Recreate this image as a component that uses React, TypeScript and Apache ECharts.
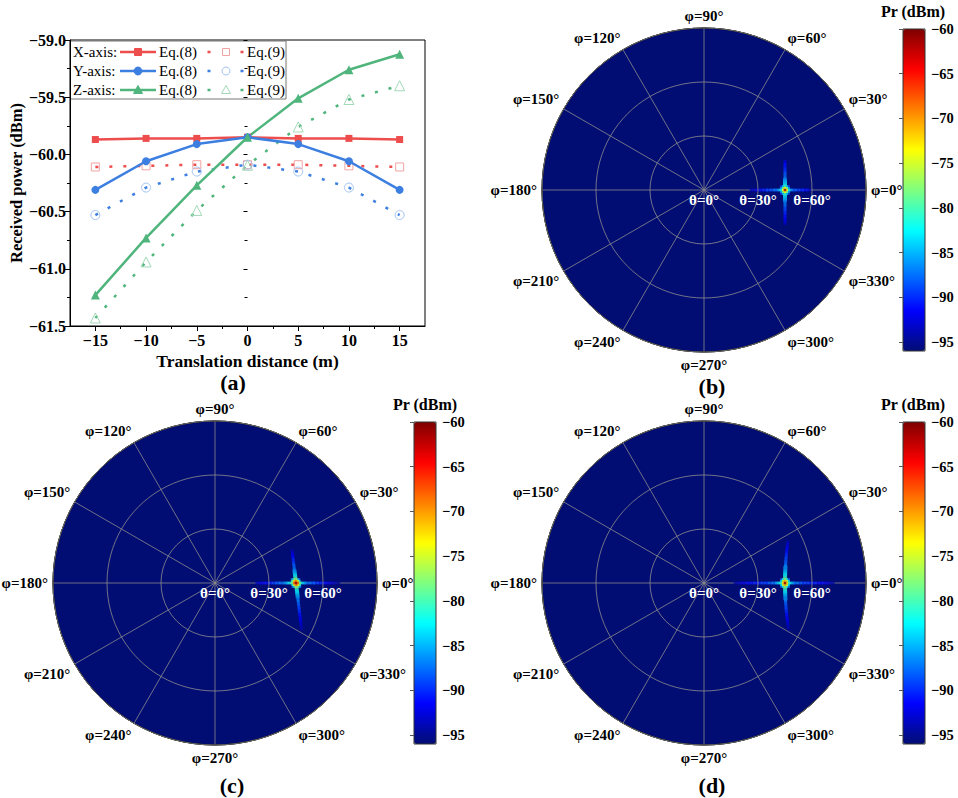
import React, { useEffect, useRef } from 'react';
import * as echarts from 'echarts';

// ---------- Panel (a) data ----------
const xDist = [-15, -10, -5, 0, 5, 10, 15];
const xEq8 = [-59.87, -59.86, -59.86, -59.85, -59.86, -59.86, -59.87];
const xEq9 = [-60.11, -60.10, -60.09, -60.09, -60.09, -60.10, -60.11];
const yEq8 = [-60.31, -60.06, -59.91, -59.85, -59.91, -60.06, -60.31];
const yEq9 = [-60.53, -60.29, -60.15, -60.09, -60.15, -60.29, -60.53];
const zEq8 = [-61.23, -60.73, -60.27, -59.85, -59.51, -59.26, -59.125];
const zEq9 = [-61.43, -60.94, -60.49, -60.095, -59.76, -59.52, -59.40];
const xMajor = [-15, -10, -5, 0, 5, 10, 15];
const xMinor = [-12.5, -7.5, -2.5, 2.5, 7.5, 12.5];
const cbTicks = [-95, -90, -85, -80, -75, -70, -65, -60];
const prMin = -96;
const prMax = -60;

// ---------- Panels (b),(c),(d): hot spot at theta=45°, phi=0° ----------
const spotTheta = 45;
const coreB = [
  [-89, -84, -80, -84, -89],
  [-85, -78, -74, -78, -85],
  [-82, -74, -62, -74, -82],
  [-85, -78, -74, -78, -85],
  [-89, -84, -80, -84, -89],
];
const upB = [-82, -84, -85, -86, -87, -88, -88, -89, -90, -90, -91, -91, -92, -93];
const downB = [-82, -84, -85, -86, -87, -87, -88, -89, -89, -90, -90, -91, -91, -92, -92, -93, -94];
const leftB = [-84, -86, -88, -87, -89, -88, -90, -89, -91, -90, -92, -91, -93, -92, -94, -93, -94];
const rightB = [-85, -87, -89, -88, -90, -89, -91, -90, -92, -91, -93, -94];

const coreC = [
  [-86, -80, -76, -80, -87],
  [-80, -73, -69, -73, -81],
  [-78, -68, -61, -68, -78],
  [-81, -73, -69, -73, -80],
  [-87, -80, -76, -80, -86],
];
const upC = [-80, -82, -84, -85, -86, -87, -88, -88, -89, -90, -90, -91, -92, -92, -93, -94];
const downC = [-80, -82, -83, -84, -85, -86, -87, -87, -88, -88, -89, -89, -90, -90, -91, -91, -92, -92, -92, -93, -93, -94, -94, -95];
const leftC = [-81, -83, -85, -86, -87, -88, -87, -89, -88, -90, -89, -91, -90, -92, -91, -92, -92, -93, -93, -94];
const rightC = [-82, -84, -86, -87, -88, -87, -89, -88, -90, -89, -91, -90, -92, -91, -92, -92, -93, -93, -94, -94, -95, -95];

const coreD = [
  [-87, -81, -77, -81, -87],
  [-83, -75, -71, -75, -83],
  [-80, -72, -61, -72, -80],
  [-83, -75, -71, -75, -83],
  [-87, -81, -77, -81, -87],
];
const upD = [-80, -82, -83, -84, -85, -86, -86, -87, -88, -88, -89, -89, -90, -90, -91, -91, -92, -92, -93, -93, -94];
const downD = [-80, -82, -83, -84, -85, -86, -86, -87, -88, -88, -89, -89, -90, -90, -91, -91, -92, -92, -92, -93, -93, -94, -94, -95];
const leftD = [-82, -84, -86, -88, -87, -89, -88, -90, -89, -90, -89, -91, -90, -91, -90, -92, -91, -92, -91, -93, -92, -93, -93, -94, -94, -95];
const rightD = [-83, -85, -87, -88, -87, -89, -88, -90, -89, -90, -89, -91, -90, -91, -90, -92, -91, -92, -91, -93, -92, -93, -94, -94, -95];

// ---------- styling ----------
const FONT = "'Liberation Serif', 'Times New Roman', serif";
const RED = '#ee4d4d';
const BLUE = '#3c7fe0';
const GREEN = '#4fb57c';
const RED_L = '#f2a3a3';
const BLUE_L = '#a3c3f2';
const GREEN_L = '#a3d9b8';
const NAVY = '#020d74';
const JET = [NAVY, '#0000FF', '#007FFF', '#00FFFF', '#7FFF7F', '#FFFF00', '#FF7F00', '#FF0000', '#7F0000'];

const minus = (v: number, d: number) => (v < 0 ? '\u2212' : '') + Math.abs(v).toFixed(d);

type Spot = { core: number[][]; up: number[]; down: number[]; left: number[]; right: number[]; tilt: number; bow: number };

function spotData(s: Spot) {
  const out: any[] = [];
  const vx = (dy: number) => spotTheta - s.tilt * dy + s.bow * dy * dy;
  s.left.forEach((v, i) => out.push({ value: [spotTheta - (i + 3), 0, v], symbolSize: [2, 2.8] }));
  s.right.forEach((v, i) => out.push({ value: [spotTheta + (i + 3), 0, v], symbolSize: [2, 2.8] }));
  s.up.forEach((v, i) => { const dy = i + 3; out.push({ value: [vx(dy), dy, v], symbolSize: [v > -87 ? 4 : 3, 2.1] }); });
  s.down.forEach((v, i) => { const dy = -(i + 3); out.push({ value: [vx(dy), dy, v], symbolSize: [v > -87 ? 4 : 3, 2.1] }); });
  s.core.forEach((row, r) => row.forEach((v, c) => {
    const dy = 2 - r;
    out.push({ value: [vx(dy) + (c - 2), dy, v], symbolSize: 2.4 });
  }));
  out.sort((a, b) => a.value[2] - b.value[2]);
  return out;
}

const spots: Spot[] = [
  { core: coreB, up: upB, down: downB, left: leftB, right: rightB, tilt: 0, bow: 0 },
  { core: coreC, up: upC, down: downC, left: leftC, right: rightC, tilt: 0.12, bow: 0 },
  { core: coreD, up: upD, down: downD, left: leftD, right: rightD, tilt: 0, bow: 0.003 },
];

// layout of the three polar panels
const R = 162;
const polarCenters = [[704, 190], [215, 583], [704, 583]];
const cbBoxes = [[903, 29], [414, 422], [903, 422]];
const CB_W = 22;
const CB_H = 322;

function buildOption() {
  const labelStyle = { fontFamily: FONT, fontWeight: 'bold' as const, color: '#000' };

  const grid: any[] = [{ left: 70, top: 40, width: 355, height: 286, show: true, borderColor: '#000', borderWidth: 1, backgroundColor: 'transparent' }];
  const xAxis: any[] = [
    {
      gridIndex: 0, type: 'value', min: -17.5, max: 17.5, position: 'bottom',
      axisLine: { show: true, onZero: false, lineStyle: { color: '#000', width: 1 } },
      axisTick: { show: true, customValues: xMajor, length: 5, lineStyle: { color: '#000' } },
      axisLabel: { customValues: xMajor, formatter: (v: number) => minus(v, 0), fontSize: 16, margin: 6, ...labelStyle },
      splitLine: { show: false },
      name: 'Translation distance (m)', nameLocation: 'middle', nameGap: 26,
      nameTextStyle: { fontSize: 17.5, ...labelStyle },
    },
    {
      gridIndex: 0, type: 'value', min: -17.5, max: 17.5, position: 'bottom',
      axisLine: { show: false },
      axisTick: { show: true, customValues: xMinor, length: 3, lineStyle: { color: '#000' } },
      axisLabel: { show: false },
      splitLine: { show: false },
    },
  ];
  const yAxis: any[] = [
    {
      gridIndex: 0, type: 'value', min: -61.5, max: -59.0, interval: 0.5, position: 'left',
      axisLine: { show: true, onZero: false, lineStyle: { color: '#000', width: 1 } },
      axisTick: { show: true, length: 5, lineStyle: { color: '#000' } },
      minorTick: { show: true, splitNumber: 2, length: 3, lineStyle: { color: '#000' } },
      axisLabel: { formatter: (v: number) => minus(v, 1), fontSize: 16, margin: 4, ...labelStyle },
      splitLine: { show: false },
      name: 'Received power (dBm)', nameLocation: 'middle', nameGap: 44, nameRotate: 90,
      nameTextStyle: { fontSize: 16.5, ...labelStyle },
    },
    {
      gridIndex: 0, type: 'value', min: -61.5, max: -59.0, interval: 0.5, position: 'right',
      axisLine: { show: false },
      axisTick: { show: true, inside: true, length: 4, lineStyle: { color: '#000' } },
      minorTick: { show: true, splitNumber: 2, length: 3, lineStyle: { color: '#000' } },
      axisLabel: { show: false },
      splitLine: { show: false },
    },
  ];

  // heat overlay grids
  polarCenters.forEach(([cx, cy]) => {
    grid.push({ left: cx - R, top: cy - R, width: 2 * R, height: 2 * R, show: false });
    const gi = grid.length - 1;
    xAxis.push({ gridIndex: gi, type: 'value', min: -90, max: 90, show: false });
    yAxis.push({ gridIndex: gi, type: 'value', min: -90, max: 90, show: false });
  });
  // colourbar grids
  cbBoxes.forEach(([lx, ty]) => {
    grid.push({ left: lx, top: ty, width: CB_W, height: CB_H, show: true, borderColor: '#333', borderWidth: 1, backgroundColor: 'transparent', z: 10 });
    const gi = grid.length - 1;
    xAxis.push({ gridIndex: gi, type: 'value', min: 0, max: 1, show: false });
    yAxis.push({
      gridIndex: gi, type: 'value', min: prMin, max: prMax, position: 'right', z: 10,
      axisLine: { show: false },
      axisTick: { show: true, inside: true, length: 4, customValues: cbTicks, lineStyle: { color: '#555', width: 1 } },
      axisLabel: { customValues: cbTicks, formatter: (v: number) => minus(v, 0), fontSize: 14.5, margin: 6, ...labelStyle },
      splitLine: { show: false },
    });
  });

  const polar = polarCenters.map((c) => ({ center: c, radius: R }));
  const angleAxis = polarCenters.map((_, i) => ({
    polarIndex: i, type: 'value', min: 0, max: 360, interval: 30, startAngle: 0, clockwise: false, z: 1,
    axisLine: { show: true, lineStyle: { color: '#000', width: 1 } },
    axisTick: { show: false },
    axisLabel: { formatter: (v: number) => (v === 360 ? '' : `\u03c6=${v}\u00b0`), fontSize: 15, margin: 5, ...labelStyle },
    splitLine: { show: true, lineStyle: { color: '#8c8c8c', width: 0.8 } },
    splitArea: { show: false },
  }));
  const radiusAxis = polarCenters.map((_, i) => ({
    polarIndex: i, type: 'value', min: 0, max: 90, interval: 30, z: 5,
    axisLine: { show: false },
    axisTick: { show: false },
    axisLabel: { formatter: (v: number) => (v === 90 ? '' : `\u03b8=${v}\u00b0`), fontSize: 15, margin: -2, fontFamily: FONT, fontWeight: 'bold', color: '#fff', verticalAlign: 'top' },
    splitLine: { show: true, lineStyle: { color: '#8c8c8c', width: 0.8 } },
  }));

  const mk = (d: number[]) => xDist.map((x, i) => [x, d[i]]);
  const solid = (name: string, d: number[], color: string, symbol: string, size: number) => ({
    name, type: 'line', xAxisIndex: 0, yAxisIndex: 0, data: mk(d), symbol, symbolSize: size,
    lineStyle: { color, width: 2.5 }, itemStyle: { color }, z: 4,
  });
  const dotted = (name: string, d: number[], color: string, light: string, symbol: string, size: number) => ({
    name, type: 'line', xAxisIndex: 0, yAxisIndex: 0, data: mk(d), symbol, symbolSize: size,
    lineStyle: { color, width: 2.5, type: [3, 11] },
    itemStyle: { color: 'rgba(255,255,255,0)', borderColor: light, borderWidth: 1 }, z: 3,
  });

  const series: any[] = [
    solid('X Eq8', xEq8, RED, 'rect', 7),
    dotted('X Eq9', xEq9, RED, RED_L, 'rect', 8),
    solid('Y Eq8', yEq8, BLUE, 'circle', 8),
    dotted('Y Eq9', yEq9, BLUE, BLUE_L, 'circle', 9),
    solid('Z Eq8', zEq8, GREEN, 'triangle', 9),
    dotted('Z Eq9', zEq9, GREEN, GREEN_L, 'triangle', 10),
  ];
  const heatStart = series.length;
  spots.forEach((s, i) => {
    series.push({
      type: 'scatter', xAxisIndex: 2 + i, yAxisIndex: 2 + i, symbol: 'rect', data: spotData(s), silent: true, z: 3,
    });
  });
  polarCenters.forEach((_, i) => series.push({ type: 'scatter', coordinateSystem: 'polar', polarIndex: i, data: [] }));

  const visualMap = cbBoxes.map(([lx, ty], i) => ({
    type: 'continuous', min: prMin, max: prMax, dimension: 2, seriesIndex: heatStart + i,
    inRange: { color: JET }, show: true, calculable: false, hoverLink: false, realtime: false,
    orient: 'vertical', left: lx, top: ty, itemWidth: CB_W, itemHeight: CB_H, padding: 0, text: null,
  }));

  // legend of panel (a)
  const rows = [
    { label: 'X-axis:', color: RED, light: RED_L, mark: 'rect' },
    { label: 'Y-axis:', color: BLUE, light: BLUE_L, mark: 'circle' },
    { label: 'Z-axis:', color: GREEN, light: GREEN_L, mark: 'triangle' },
  ];
  const markerShape = (kind: string, x: number, y: number, fill: string, stroke: string, hollow: boolean) => {
    const style = hollow ? { fill: '#fff', stroke, lineWidth: 1 } : { fill, stroke: fill, lineWidth: 1 };
    if (kind === 'rect') return { type: 'rect', shape: { x: x - 3.5, y: y - 3.5, width: 7, height: 7 }, style };
    if (kind === 'circle') return { type: 'circle', shape: { cx: x, cy: y, r: 4 }, style };
    return { type: 'polygon', shape: { points: [[x, y - 4.5], [x + 4.5, y + 3.5], [x - 4.5, y + 3.5]] }, style };
  };
  const legendChildren: any[] = [
    { type: 'rect', shape: { x: 0, y: 0, width: 216, height: 58 }, style: { fill: '#fff', stroke: '#777', lineWidth: 1 } },
  ];
  const legFont = `15px ${FONT}`;
  rows.forEach((r, i) => {
    const y = 11 + 19 * i;
    legendChildren.push({ type: 'text', x: 3, y, style: { text: r.label, font: legFont, fill: '#000', verticalAlign: 'middle' } });
    legendChildren.push({ type: 'line', shape: { x1: 50, y1: y, x2: 86, y2: y }, style: { stroke: r.color, lineWidth: 2.5 } });
    legendChildren.push(markerShape(r.mark, 68, y, r.color, r.color, false));
    legendChildren.push({ type: 'text', x: 89, y, style: { text: 'Eq.(8)', font: legFont, fill: '#000', verticalAlign: 'middle' } });
    legendChildren.push({ type: 'line', shape: { x1: 137.5, y1: y, x2: 140.5, y2: y }, style: { stroke: r.color, lineWidth: 2.5 } });
    legendChildren.push({ type: 'line', shape: { x1: 170.5, y1: y, x2: 173.5, y2: y }, style: { stroke: r.color, lineWidth: 2.5 } });
    legendChildren.push(markerShape(r.mark, 156, y, r.light, r.light, true));
    legendChildren.push({ type: 'text', x: 177, y, style: { text: 'Eq.(9)', font: legFont, fill: '#000', verticalAlign: 'middle' } });
  });

  const textEl = (text: string, x: number, y: number, size: number) => ({
    type: 'text', x, y, z: 20,
    style: { text, font: `bold ${size}px ${FONT}`, fill: '#000', align: 'center', verticalAlign: 'middle' },
  });

  const graphic: any[] = [
    ...polarCenters.map(([cx, cy]) => ({ type: 'circle', z: -10, shape: { cx, cy, r: R }, style: { fill: NAVY, stroke: '#000', lineWidth: 1 } })),
    { type: 'group', x: 70, y: 41, z: 20, children: legendChildren },
    textEl('(a)', 233, 382, 22),
    textEl('(b)', 712, 386, 22),
    textEl('(c)', 232, 785, 22),
    textEl('(d)', 712, 785, 22),
    textEl('Pr (dBm)', 913, 11, 16),
    textEl('Pr (dBm)', 425, 404, 16),
    textEl('Pr (dBm)', 913, 404, 16),
  ];

  return {
    animation: false,
    backgroundColor: '#fff',
    textStyle: { fontFamily: FONT },
    grid, xAxis, yAxis, polar, angleAxis, radiusAxis, series, visualMap, graphic,
  };
}

export default function App() {
  const ref = useRef<HTMLDivElement>(null);
  useEffect(() => {
    if (!ref.current) return;
    const chart = echarts.init(ref.current, null, { renderer: 'svg' });
    chart.setOption(buildOption() as any);
    return () => chart.dispose();
  }, []);
  return <div ref={ref} style={{ position: 'absolute', left: 0, top: 0, width: 958, height: 798 }} />;
}
